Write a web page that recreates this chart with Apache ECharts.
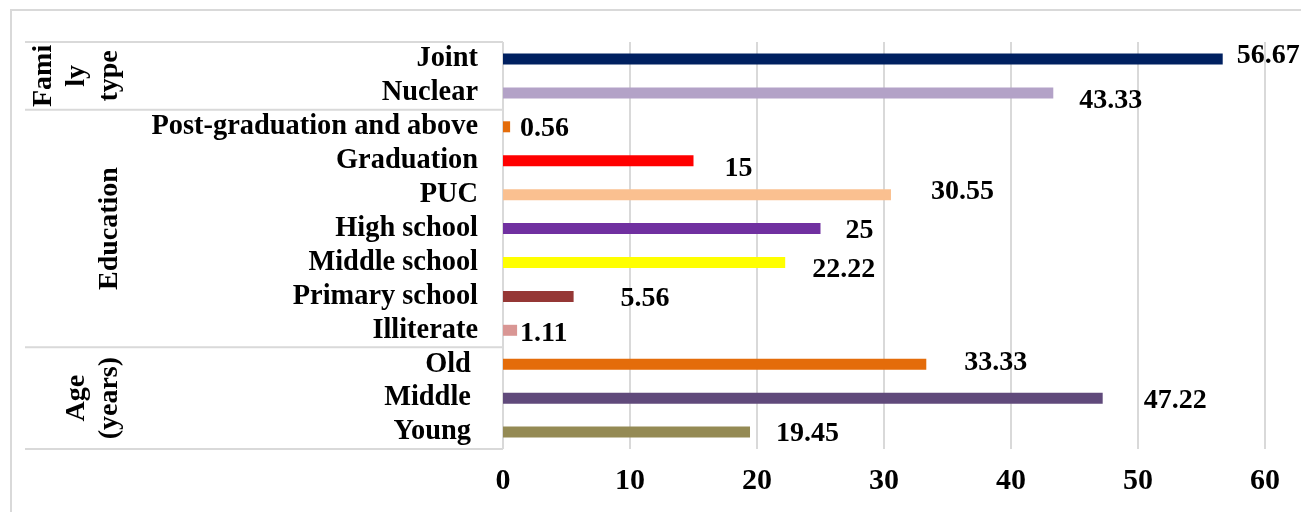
<!DOCTYPE html>
<html>
<head>
<meta charset="utf-8">
<script src="https://cdn.jsdelivr.net/npm/echarts@6/dist/echarts.min.js"></script>
<style>
  html, body { margin: 0; padding: 0; background: #ffffff; }
  #chart { width: 1301px; height: 512px; }
</style>
</head>
<body>
<div id="chart"></div>
<script>
// Respondent profile: share (%) of respondents by family type, education and age
const categories = ['Joint', 'Nuclear', 'Post-graduation and above', 'Graduation', 'PUC',
  'High school', 'Middle school', 'Primary school', 'Illiterate', 'Old ', 'Middle ', 'Young '];
const values = [56.67, 43.33, 0.56, 15, 30.55, 25, 22.22, 5.56, 1.11, 33.33, 47.22, 19.45];
const groupNames = ['Fami\nly\ntype', 'Education', 'Age\n(years)'];
const groupSizes = [2, 7, 3];
const xTicks = [0, 10, 20, 30, 40, 50, 60];

// styling
const barColors = ['#002060', '#b3a2c7', '#e46c0a', '#ff0000', '#fac090', '#7030a0',
  '#ffff00', '#953735', '#d99694', '#e46c0a', '#604a7b', '#948a54'];
const labelNudge = [[14, -3], [26, 8], [10, 2], [31, 8], [40, -3], [25, 2],
  [27, 7], [47, 2], [3, 3], [38, -1], [41, 3], [26, 2]];
const FONT = "'Liberation Serif', 'Times New Roman', serif";
const GREY = '#d9d9d9';

const chart = echarts.init(document.getElementById('chart'), null, { renderer: 'canvas' });

const seriesData = values.map((v, i) => ({
  value: v,
  itemStyle: { color: barColors[i] },
  label: { offset: labelNudge[i] }
}));

chart.setOption({
  animation: false,
  backgroundColor: '#ffffff',
  grid: { left: 503, right: 36, top: 42, bottom: 63 },
  xAxis: {
    type: 'value',
    min: xTicks[0],
    max: xTicks[xTicks.length - 1],
    interval: xTicks[1] - xTicks[0],
    axisLine: { show: false },
    axisTick: { show: false },
    splitLine: { show: true, lineStyle: { color: GREY, width: 2 } },
    axisLabel: {
      margin: 17,
      fontFamily: FONT, fontWeight: 'bold', fontSize: 30, color: '#000000'
    }
  },
  yAxis: {
    type: 'category',
    inverse: true,
    data: categories,
    axisLine: { show: false },
    axisTick: { show: false },
    axisLabel: {
      interval: 0,
      margin: 25,
      padding: [3, 0, 0, 0],
      fontFamily: FONT, fontWeight: 'bold', fontSize: 28.4, color: '#000000'
    }
  },
  series: [{
    type: 'bar',
    data: seriesData,
    barWidth: 11,
    label: {
      show: true,
      position: 'right',
      distance: 0,
      fontFamily: FONT, fontWeight: 'bold', fontSize: 28, color: '#000000'
    }
  }]
});

// Frame, group separators and rotated group titles, placed from the category axis
function drawGroups() {
  const yAt = i => chart.convertToPixel({ yAxisIndex: 0 }, i);
  const band = yAt(1) - yAt(0);
  const axisX = chart.convertToPixel({ xAxisIndex: 0 }, 0);
  const elements = [{
    type: 'rect',
    shape: { x: 11, y: 10, width: 1300, height: 510 },
    style: { fill: null, stroke: GREY, lineWidth: 2 },
    silent: true, z: 0
  }];
  let start = 0;
  const edges = [yAt(0) - band / 2];
  groupSizes.forEach((n, g) => {
    const top = yAt(start) - band / 2;
    const bottom = yAt(start + n - 1) + band / 2;
    edges.push(bottom);
    const lines = groupNames[g].split('\n').length;
    elements.push({
      type: 'text',
      x: 110 - (lines - 1) * 33 / 2,
      y: (top + bottom) / 2,
      rotation: Math.PI / 2,
      style: {
        text: groupNames[g],
        fontFamily: FONT, fontWeight: 'bold', fontSize: 28,
        lineHeight: 33,
        fill: '#000000', align: 'center', verticalAlign: 'middle'
      },
      silent: true, z: 10
    });
    start += n;
  });
  edges.forEach(y => {
    elements.push({
      type: 'line',
      shape: { x1: 25, y1: y, x2: axisX, y2: y },
      style: { stroke: GREY, lineWidth: 2 },
      silent: true, z: 1
    });
  });
  chart.setOption({ graphic: { elements } });
}
drawGroups();
</script>
</body>
</html>
